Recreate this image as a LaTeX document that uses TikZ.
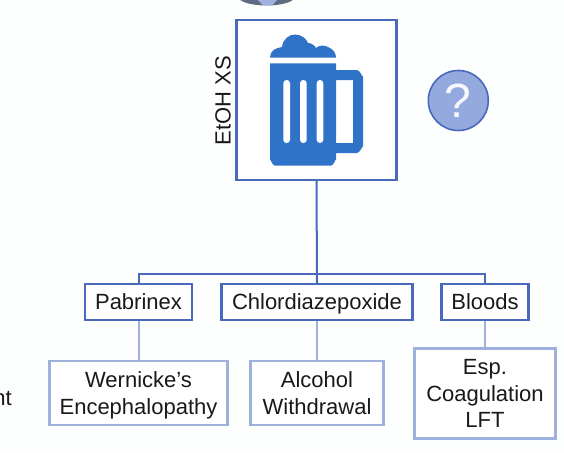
\documentclass[tikz,border=0pt]{standalone}
\usepackage{fontspec}
\setmainfont{Liberation Sans}
\definecolor{bg}{HTML}{FDFEFE}
\definecolor{dk}{HTML}{4A69BD}
\definecolor{lt}{HTML}{9DB1DC}
\definecolor{mug}{HTML}{2F73C9}
\definecolor{qfill}{HTML}{94A9DE}
\definecolor{topgrey}{HTML}{5F6B80}
\tikzset{
  lbl/.style={font=\fontsize{22}{26.5}\selectfont,text=black!90,align=center,inner sep=0pt},
  upper/.style={draw=dk,line width=2.2pt,fill=white,lbl,minimum height=36pt,text height=18pt,text depth=4pt},
  lower/.style={draw=lt,line width=2.2pt,fill=white,lbl},
  linkd/.style={draw=dk,line width=2pt},
  linkl/.style={draw=lt,line width=2pt},
}
\begin{document}
\begin{tikzpicture}[x=1pt,y=-1pt]
\useasboundingbox (0,0) rectangle (564,452);
\fill[bg] (0,0) rectangle (564,452);
% top cropped circle
\begin{scope}
\clip (0,0) rectangle (564,452);
\fill[topgrey] (266.5,-3) ellipse [x radius=28,y radius=8.5];
\fill[lt] (258,0) -- (263,5.5) -- (272,5.5) -- (277,0) -- cycle;
\end{scope}
% main box
\node[draw=dk,line width=2.2pt,fill=white,minimum width=160pt,minimum height=160pt,inner sep=0pt] (main) at (316.5,100) {};
\node[lbl,rotate=90] (xs) at (223,100.5) {EtOH XS};
% mug
\fill[mug,even odd rule]
  (270,63.3) -- (336,63.3) -- (336,70) -- (357,70) to[out=0,in=-90] (363,76) -- (363,147) to[out=90,in=0] (357,153) -- (336,153) -- (336,160) to[out=90,in=0] (331,165.7) -- (275,165.7) to[out=180,in=90] (270,160) -- cycle
  (336,80) rectangle (353,143);
\fill[white,rounded corners=3.2pt] (283.3,80) rectangle (290,143);
\fill[white,rounded corners=3.2pt] (300,80) rectangle (306.7,143);
\fill[white,rounded corners=3.2pt] (316.7,80) rectangle (323.3,143);
\fill[mug] (270,57.5) .. controls (270,51) and (275,48) .. (282,47) .. controls (283,39) and (289,34.5) .. (295,34.5) .. controls (301,34.5) and (306,38) .. (308,43) .. controls (312,43) and (315,46) .. (316,48) .. controls (319,45) and (324,45) .. (328,47) .. controls (333,49) and (336,53) .. (336,57.5) -- cycle;
% question
\node[circle,draw=dk,line width=1.6pt,fill=qfill,minimum size=60pt,inner sep=0pt,font=\fontsize{48}{48}\selectfont,text=white!92!qfill] (q) at (458.3,100.5) {?};
% upper row
\node[upper,minimum width=107pt] (pab) at (138.5,302) {Pabrinex};
\node[upper,minimum width=191pt] (chl) at (317,302) {Chlordiazepoxide};
\node[upper,minimum width=87pt] (blo) at (485,302) {Bloods};
% lower row
\node[lower,minimum width=178pt,minimum height=64pt,text depth=0pt] (wer) at (138.5,393) {Wernicke’s\\Encephalopathy};
\node[lower,minimum width=133pt,minimum height=64pt] (alc) at (317,393) {Alcohol\\Withdrawal};
\node[lower,minimum width=141pt,minimum height=90pt] (esp) at (485,393.5) {Esp.\\Coagulation\\LFT};
% connectors
\coordinate (bus) at (317,274);
\draw[linkd] (main.south) -- (chl.north);
\draw[linkd] (pab.north) |- (bus) -| (blo.north);
\draw[linkl] (pab.south) -- (wer.north);
\draw[linkl] (chl.south) -- (alc.north);
\draw[linkl] (blo.south) -- (esp.north);
% cropped text
\node[lbl,anchor=east] (nt) at (12,398) {nt};
\end{tikzpicture}
\end{document}
